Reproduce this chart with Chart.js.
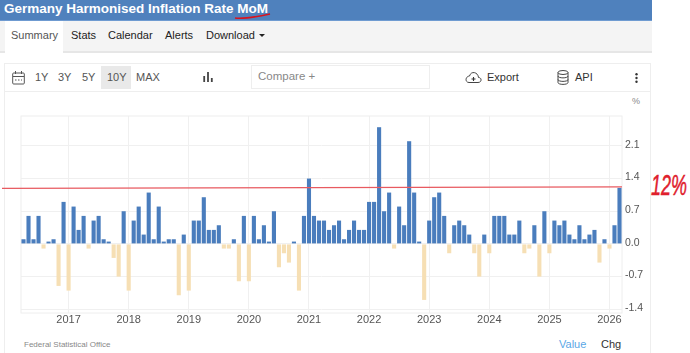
<!DOCTYPE html>
<html>
<head>
<meta charset="utf-8">
<title>Germany Harmonised Inflation Rate MoM</title>
<script src="https://cdn.jsdelivr.net/npm/chart.js@4"></script>
<style>
  html, body { margin: 0; padding: 0; background: #fff; }
  body { position: relative; width: 690px; height: 353px; overflow: hidden; font-family: "Liberation Sans", Arial, sans-serif; }
  .abs { position: absolute; white-space: nowrap; }
  #header { left: 0; top: 0; width: 652px; height: 20px; background: #4f81bd; border-bottom: 1px solid #6f9bd1; }
  #title { left: 4px; top: 0; line-height: 18px; font-size: 13.5px; font-weight: bold; color: #fff; }
  #nav { left: 0; top: 21px; width: 652px; height: 30px; background: #f4f4f4; border-bottom: 2px solid #e6e6e6; }
  #active { left: 5px; top: 21px; width: 58px; height: 32px; background: #fff; }
  .nav { top: 28px; font-size: 11px; line-height: 15px; color: #222; }
  #box { left: 4px; top: 63px; width: 645px; height: 292px; border: 1px solid #eee; }
  #rule { left: 5px; top: 91px; width: 645px; height: 1px; background: #eee; }
  #sel { left: 101px; top: 66px; width: 30px; height: 23px; background: #e9e9e9; }
  .range { top: 70px; font-size: 11px; line-height: 15px; color: #555; }
  #compare { left: 251px; top: 65px; width: 177px; height: 22px; border: 1px solid #eee; }
  #compareText { left: 258px; top: 69px; font-size: 11.5px; line-height: 15px; color: #888; }
  .tool { top: 70px; font-size: 11px; line-height: 15px; color: #333; }
  #pct { left: 632px; top: 96px; font-size: 9px; line-height: 11px; color: #888; }
  #source { left: 24px; top: 339px; font-size: 8px; line-height: 11px; color: #888; }
  #value { left: 559px; top: 338px; font-size: 11px; line-height: 13px; color: #5aa7e6; }
  #chg { left: 601px; top: 338px; font-size: 11px; line-height: 13px; color: #333; }
  #note { left: 651px; top: 168px; font-size: 30px; line-height: 34px; font-style: italic; color: #e0202c; -webkit-text-stroke: 0.5px #e0202c; transform: scaleX(0.6); transform-origin: left top; }
  canvas { position: absolute; left: 0; top: 105px; }
  svg { position: absolute; overflow: visible; }
</style>
</head>
<body>
<div class="abs" id="header"></div>
<div class="abs" id="title">Germany Harmonised Inflation Rate MoM</div>
<svg style="left:0;top:0" width="300" height="21"><path d="M235 18 C245 19 256 17 270 14" fill="none" stroke="#d8141e" stroke-width="1.6"/></svg>
<div class="abs" id="nav"></div>
<div class="abs" id="active"></div>
<span class="abs nav" style="left:11px;color:#555">Summary</span>
<span class="abs nav" style="left:71px">Stats</span>
<span class="abs nav" style="left:108px">Calendar</span>
<span class="abs nav" style="left:165px">Alerts</span>
<span class="abs nav" style="left:206px">Download</span>
<svg style="left:259px;top:34px" width="6" height="3"><path d="M0 0H6L3 3Z" fill="#222"/></svg>

<div class="abs" id="box"></div>
<div class="abs" id="rule"></div>
<svg style="left:12px;top:71px" width="13" height="14"><rect x="0.7" y="2" width="11.6" height="11" rx="1" fill="none" stroke="#555"/><path d="M1 5.5H12M3.5 0V3M9.5 0V3" stroke="#555"/><path d="M3 9H10" stroke="#555" stroke-dasharray="1.5 1.5"/></svg>
<div class="abs" id="sel"></div>
<span class="abs range" style="left:35px">1Y</span>
<span class="abs range" style="left:58px">3Y</span>
<span class="abs range" style="left:82px">5Y</span>
<span class="abs range" style="left:107px">10Y</span>
<span class="abs range" style="left:136px">MAX</span>
<svg style="left:203px;top:72px" width="10" height="10"><path d="M1.2 4V10M5 0V10M8.8 6V10" stroke="#444" stroke-width="1.8"/></svg>
<div class="abs" id="compare"></div>
<span class="abs" id="compareText">Compare +</span>
<svg style="left:465px;top:71px" width="17" height="12"><path d="M4 11.5H13C17 11.5 17 6.5 13.5 6.5C13 1 6 -0.5 4.5 5C0 5.5 0 11.5 4 11.5Z" fill="none" stroke="#444"/><path d="M8.5 6V10M6.5 8H10.5" stroke="#333" stroke-width="1.1"/></svg>
<span class="abs tool" style="left:487px">Export</span>
<svg style="left:557px;top:70px" width="12" height="15"><ellipse cx="6" cy="2.5" rx="5" ry="2" fill="none" stroke="#444"/><path d="M1 2.5V12.5C1 15 11 15 11 12.5V2.5M1 6C1 8.5 11 8.5 11 6M1 9.5C1 12 11 12 11 9.5" fill="none" stroke="#444"/></svg>
<span class="abs tool" style="left:575px">API</span>
<svg style="left:635px;top:73px" width="3" height="10"><circle cx="1.5" cy="1.3" r="1.2" fill="#333"/><circle cx="1.5" cy="5" r="1.2" fill="#333"/><circle cx="1.5" cy="8.7" r="1.2" fill="#333"/></svg>
<span class="abs" id="pct">%</span>

<canvas id="chart" width="650" height="225"></canvas>

<span class="abs" id="source">Federal Statistical Office</span>
<span class="abs" id="value">Value</span>
<span class="abs" id="chg">Chg</span>
<span class="abs" id="note">12%</span>

<script>
const months = [
  '2016-04', '2016-05', '2016-06', '2016-07', '2016-08', '2016-09', '2016-10', '2016-11', '2016-12',
  '2017-01', '2017-02', '2017-03', '2017-04', '2017-05', '2017-06', '2017-07', '2017-08', '2017-09', '2017-10', '2017-11', '2017-12',
  '2018-01', '2018-02', '2018-03', '2018-04', '2018-05', '2018-06', '2018-07', '2018-08', '2018-09', '2018-10', '2018-11', '2018-12',
  '2019-01', '2019-02', '2019-03', '2019-04', '2019-05', '2019-06', '2019-07', '2019-08', '2019-09', '2019-10', '2019-11', '2019-12',
  '2020-01', '2020-02', '2020-03', '2020-04', '2020-05', '2020-06', '2020-07', '2020-08', '2020-09', '2020-10', '2020-11', '2020-12',
  '2021-01', '2021-02', '2021-03', '2021-04', '2021-05', '2021-06', '2021-07', '2021-08', '2021-09', '2021-10', '2021-11', '2021-12',
  '2022-01', '2022-02', '2022-03', '2022-04', '2022-05', '2022-06', '2022-07', '2022-08', '2022-09', '2022-10', '2022-11', '2022-12',
  '2023-01', '2023-02', '2023-03', '2023-04', '2023-05', '2023-06', '2023-07', '2023-08', '2023-09', '2023-10', '2023-11', '2023-12',
  '2024-01', '2024-02', '2024-03', '2024-04', '2024-05', '2024-06', '2024-07', '2024-08', '2024-09', '2024-10', '2024-11', '2024-12',
  '2025-01', '2025-02', '2025-03', '2025-04', '2025-05', '2025-06', '2025-07', '2025-08', '2025-09', '2025-10', '2025-11', '2025-12',
  '2026-01', '2026-02', '2026-03'
];

const momValues = [
  0.1, 0.6, 0.1, 0.6, -0.1, 0.05, 0.1, -0.9, 0.9,
  -1.0, 0.8, 0.3, 0.6, -0.1, 0.5, 0.6, 0.1, 0.05, -0.3, -0.7, 0.7,
  -1.0, 0.5, 0.8, 0.2, 1.1, 0.1, 0.8, 0.05, 0.1, 0.1, -1.1, 0.2,
  -1.0, 0.5, 0.5, 1.0, 0.3, 0.3, 0.4, -0.1, -0.1, 0.1, -0.8, 0.6,
  -0.8, 0.6, 0.1, 0.4, 0.05, 0.7, -0.5, -0.2, -0.4, 0.05, -1.0, 0.6,
  1.4, 0.6, 0.5, 0.5, 0.3, 0.4, 0.5, 0.1, 0.3, 0.5, 0.3, 0.3,
  0.9, 0.9, 2.5, 0.7, 1.1, -0.1, 0.8, 0.4, 2.2, 1.1, 0.05, -1.2,
  0.5, 1.0, 1.1, 0.6, -0.2, 0.4, 0.5, 0.4, 0.2, -0.2, -0.7, 0.2,
  -0.2, 0.6, 0.6, 0.6, 0.2, 0.2, 0.5, -0.2, -0.1, 0.4, -0.7, 0.7,
  -0.2, 0.5, 0.4, 0.5, 0.2, 0.1, 0.4, 0.1, 0.2, 0.3, -0.4, 0.1,
  -0.1, 0.4, 1.2
];

const yTicks = [-1.4, -0.7, 0, 0.7, 1.4, 2.1];

// hand drawn red line on the screenshot, start and end value
const markLine = [1.19, 1.22];

const frame = {
  id: 'frame',
  beforeDatasetsDraw(chart) {
    const { ctx, chartArea: a } = chart;
    ctx.save();
    ctx.strokeStyle = '#eeeeee';
    ctx.strokeRect(a.left, a.top, a.right - a.left, a.bottom - a.top);
    ctx.restore();
  }
};

const redMark = {
  id: 'redMark',
  afterDatasetsDraw(chart) {
    const { ctx, chartArea: a, scales: { y } } = chart;
    ctx.save();
    ctx.strokeStyle = '#e85a60';
    ctx.lineWidth = 1.2;
    ctx.beginPath();
    ctx.moveTo(2, y.getPixelForValue(markLine[0]));
    ctx.lineTo(a.right, y.getPixelForValue(markLine[1]));
    ctx.stroke();
    ctx.restore();
  }
};

new Chart(document.getElementById('chart'), {
  type: 'bar',
  plugins: [frame, redMark],
  data: {
    labels: months,
    datasets: [{
      data: momValues,
      backgroundColor: (c) => (c.raw < 0 ? '#f6dfb4' : '#4a7dbd'),
      barPercentage: 0.82,
      categoryPercentage: 1
    }]
  },
  options: {
    responsive: false,
    animation: false,
    layout: { padding: { left: 21, top: 11 } },
    plugins: { legend: { display: false }, tooltip: { enabled: false } },
    scales: {
      x: {
        grid: { color: '#f0f0f0', offset: false, drawTicks: false },
        border: { display: false },
        afterBuildTicks(scale) {
          scale.ticks = months.map((m, i) => ({ value: i, month: m })).filter((t) => t.month.endsWith('-01'));
        },
        afterFit(scale) { scale.height = 17; },
        ticks: {
          autoSkip: false,
          maxRotation: 0,
          padding: 0,
          color: '#555',
          font: { family: '"Liberation Sans"', size: 11 },
          callback(v) { return months[v].slice(0, 4); }
        }
      },
      y: {
        position: 'right',
        min: -1.48,
        max: 2.74,
        grid: { color: '#f0f0f0', drawTicks: false },
        border: { display: false },
        afterBuildTicks(scale) { scale.ticks = yTicks.map((v) => ({ value: v })); },
        afterFit(scale) { scale.width = 28; },
        ticks: {
          padding: 3,
          labelOffset: -1,
          color: '#555',
          font: { family: '"Liberation Sans"', size: 10.5 },
          callback(v) { return v.toFixed(1); }
        }
      }
    }
  }
});
</script>
</body>
</html>
